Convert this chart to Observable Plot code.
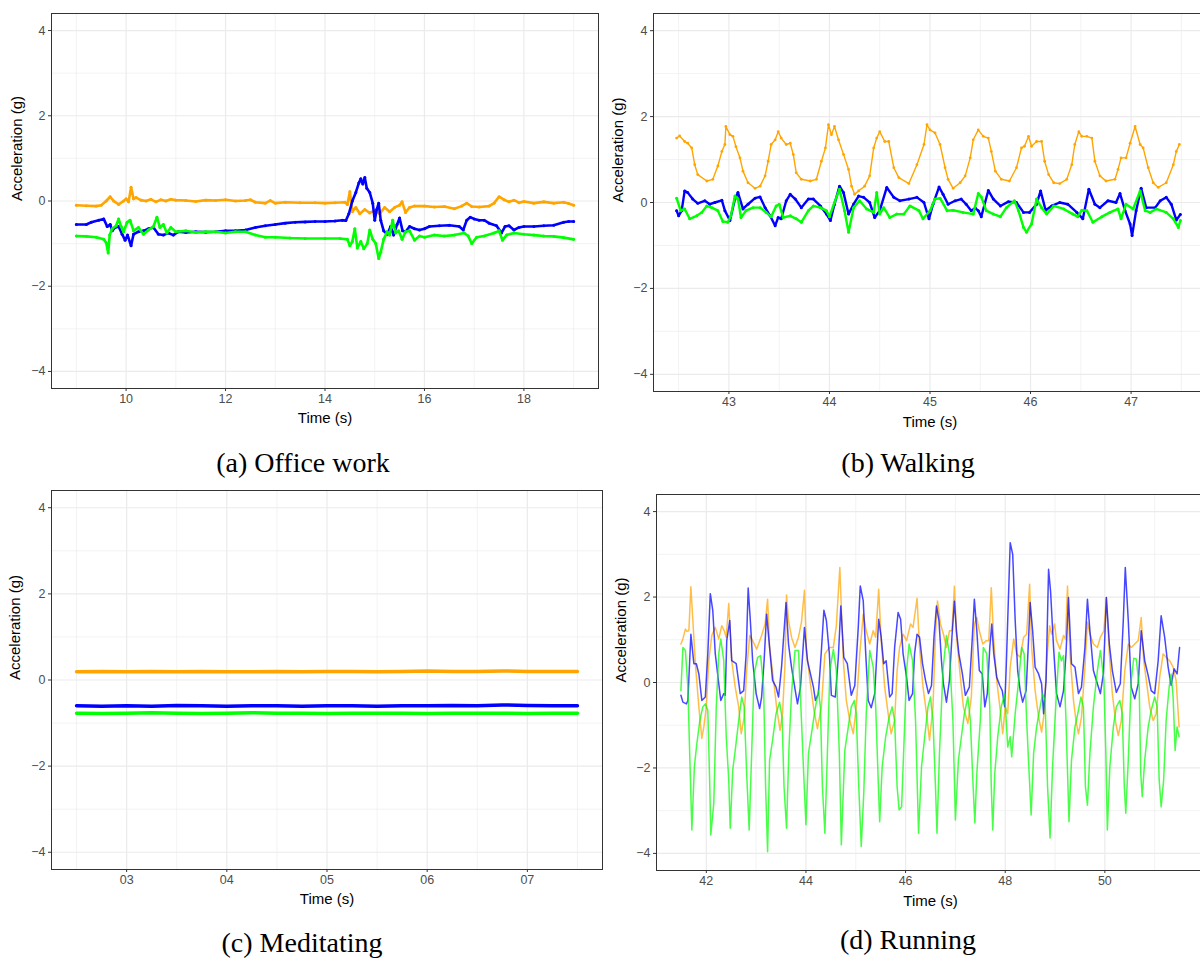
<!DOCTYPE html>
<html><head><meta charset="utf-8">
<script src="https://cdn.jsdelivr.net/npm/d3@7"></script>
<script src="https://cdn.jsdelivr.net/npm/@observablehq/plot@0.6"></script>
<style>
html,body{margin:0;padding:0;background:#fff;}
#root{position:relative;width:1200px;height:958px;overflow:hidden;}
.panel{position:absolute;width:620px;}
.panel svg{max-width:none !important;}
.cap{position:absolute;font-family:"Liberation Serif","Times New Roman",serif;font-size:28px;color:#000;transform:translate(-50%,-50%);white-space:nowrap;line-height:1;}
</style></head><body>
<div id="root"></div>
<script>
// ---------- colours / scales ----------
const colOrange = "#FFA500", colBlue = "#0000FF", colGreen = "#00FF00";
const yMajor = [-4, -2, 0, 2, 4];
const yMinor = [-3, -1, 1, 3];

// ---------- (a) Office work ----------
const officeTicks = [10, 12, 14, 16, 18];
const officeMinor = [9, 11, 13, 15, 17, 19];
const officeOrange = [[9.0,-0.10],[9.2,-0.11],[9.4,-0.12],[9.5,-0.10],[9.6,0.0],[9.68,0.10],[9.75,0.0],[9.85,-0.08],[9.95,0.0],[10.0,0.05],[10.05,-0.02],[10.1,0.32],[10.15,0.05],[10.2,0.08],[10.3,0.02],[10.4,0.0],[10.5,0.04],[10.6,-0.02],[10.7,0.03],[10.8,0.0],[10.9,0.04],[11.0,0.02],[11.2,0.01],[11.4,-0.01],[11.6,0.02],[11.8,0.01],[12.0,0.03],[12.2,0.0],[12.4,0.01],[12.5,0.03],[12.6,-0.03],[12.8,-0.05],[12.9,0.01],[13.0,-0.05],[13.2,-0.03],[13.5,-0.04],[13.8,-0.04],[14.0,-0.05],[14.2,-0.04],[14.4,-0.03],[14.45,-0.08],[14.5,0.22],[14.55,-0.25],[14.62,-0.15],[14.7,-0.3],[14.8,-0.2],[14.9,-0.28],[15.0,-0.22],[15.1,-0.3],[15.2,-0.15],[15.3,-0.25],[15.4,-0.15],[15.5,-0.1],[15.55,-0.02],[15.62,-0.27],[15.7,-0.15],[15.8,-0.12],[16.0,-0.12],[16.2,-0.14],[16.4,-0.13],[16.6,-0.18],[16.75,-0.12],[16.85,-0.05],[16.95,-0.13],[17.1,-0.14],[17.3,-0.12],[17.4,-0.05],[17.5,0.1],[17.6,0.03],[17.7,-0.02],[17.8,0.02],[17.9,-0.04],[18.0,-0.01],[18.2,-0.05],[18.4,-0.02],[18.6,-0.05],[18.8,-0.03],[18.9,-0.06],[19.0,-0.1]];
const officeBlue = [[9.0,-0.55],[9.2,-0.55],[9.3,-0.5],[9.45,-0.45],[9.55,-0.42],[9.62,-0.6],[9.68,-0.55],[9.72,-0.7],[9.78,-0.62],[9.85,-0.6],[9.92,-0.78],[9.98,-0.92],[10.03,-0.8],[10.1,-1.05],[10.15,-0.78],[10.25,-0.72],[10.35,-0.7],[10.45,-0.65],[10.55,-0.62],[10.65,-0.78],[10.75,-0.8],[10.85,-0.75],[10.95,-0.8],[11.05,-0.72],[11.2,-0.74],[11.4,-0.72],[11.6,-0.73],[11.8,-0.72],[12.0,-0.7],[12.2,-0.7],[12.4,-0.68],[12.6,-0.62],[12.8,-0.58],[13.0,-0.55],[13.2,-0.52],[13.4,-0.5],[13.6,-0.49],[13.8,-0.48],[14.0,-0.48],[14.2,-0.47],[14.35,-0.45],[14.42,-0.46],[14.48,-0.3],[14.55,0.0],[14.62,0.2],[14.68,0.42],[14.72,0.52],[14.76,0.4],[14.8,0.55],[14.84,0.3],[14.9,0.2],[14.96,-0.05],[15.0,-0.45],[15.04,-0.2],[15.08,-0.05],[15.12,-0.45],[15.18,-0.7],[15.25,-0.78],[15.32,-0.6],[15.38,-0.8],[15.45,-0.55],[15.5,-0.4],[15.56,-0.7],[15.62,-0.72],[15.7,-0.6],[15.8,-0.65],[15.9,-0.68],[16.0,-0.65],[16.1,-0.6],[16.3,-0.58],[16.5,-0.57],[16.7,-0.6],[16.78,-0.68],[16.85,-0.45],[16.92,-0.38],[17.0,-0.42],[17.1,-0.45],[17.2,-0.45],[17.3,-0.52],[17.45,-0.58],[17.55,-0.75],[17.62,-0.6],[17.7,-0.58],[17.8,-0.68],[17.9,-0.62],[18.0,-0.6],[18.2,-0.6],[18.4,-0.58],[18.6,-0.57],[18.8,-0.5],[18.9,-0.48],[19.0,-0.48]];
const officeGreen = [[9.0,-0.82],[9.2,-0.83],[9.4,-0.85],[9.55,-0.9],[9.6,-0.98],[9.64,-1.22],[9.67,-0.8],[9.72,-0.65],[9.8,-0.58],[9.85,-0.42],[9.9,-0.6],[9.95,-0.72],[10.02,-0.5],[10.08,-0.45],[10.15,-0.7],[10.25,-0.62],[10.35,-0.78],[10.45,-0.68],[10.55,-0.6],[10.62,-0.38],[10.68,-0.62],[10.75,-0.55],[10.82,-0.75],[10.9,-0.62],[11.0,-0.72],[11.2,-0.7],[11.4,-0.74],[11.6,-0.72],[11.8,-0.72],[12.0,-0.75],[12.2,-0.72],[12.4,-0.72],[12.6,-0.8],[12.8,-0.85],[13.0,-0.85],[13.3,-0.87],[13.6,-0.88],[14.0,-0.88],[14.3,-0.88],[14.45,-0.9],[14.5,-1.05],[14.55,-0.95],[14.6,-0.65],[14.65,-1.1],[14.72,-0.95],[14.78,-1.12],[14.85,-1.0],[14.9,-0.68],[14.96,-0.9],[15.02,-1.0],[15.08,-1.35],[15.12,-1.2],[15.18,-0.9],[15.25,-0.72],[15.3,-0.8],[15.36,-0.45],[15.42,-0.75],[15.48,-0.7],[15.55,-0.9],[15.62,-0.72],[15.7,-0.7],[15.8,-0.92],[15.9,-0.82],[16.0,-0.85],[16.2,-0.8],[16.4,-0.82],[16.6,-0.8],[16.8,-0.75],[16.88,-0.82],[16.95,-1.0],[17.05,-0.85],[17.2,-0.82],[17.4,-0.75],[17.5,-0.7],[17.57,-0.92],[17.65,-0.8],[17.8,-0.75],[18.0,-0.78],[18.2,-0.8],[18.4,-0.82],[18.6,-0.83],[18.8,-0.86],[19.0,-0.9]];

// ---------- (b) Walking ----------
const walkTicks = [43, 44, 45, 46, 47];
const walkMinor = [42.5, 43.5, 44.5, 45.5, 46.5, 47.5];
const walkOrange = [[42.48,1.5],[42.51,1.55],[42.56,1.42],[42.59,1.38],[42.63,1.27],[42.66,0.88],[42.69,0.65],[42.78,0.5],[42.84,0.54],[42.89,0.85],[42.93,1.19],[42.96,1.35],[42.97,1.77],[43.01,1.58],[43.04,1.54],[43.07,1.3],[43.11,1.04],[43.14,0.73],[43.19,0.46],[43.26,0.33],[43.31,0.38],[43.36,0.62],[43.39,0.96],[43.42,1.35],[43.46,1.46],[43.49,1.65],[43.52,1.5],[43.57,1.35],[43.61,1.38],[43.64,1.12],[43.67,0.69],[43.72,0.54],[43.81,0.5],[43.87,0.54],[43.92,0.96],[43.96,1.27],[43.99,1.81],[44.02,1.58],[44.05,1.77],[44.09,1.46],[44.14,1.12],[44.19,0.77],[44.22,0.38],[44.25,0.19],[44.29,0.27],[44.35,0.38],[44.4,0.62],[44.44,1.27],[44.47,1.5],[44.5,1.65],[44.55,1.42],[44.59,1.42],[44.64,0.81],[44.69,0.58],[44.79,0.44],[44.87,0.88],[44.94,1.35],[44.97,1.81],[45.0,1.69],[45.05,1.62],[45.1,1.35],[45.15,0.81],[45.18,0.54],[45.23,0.33],[45.3,0.46],[45.35,0.62],[45.4,1.04],[45.43,1.46],[45.48,1.69],[45.53,1.54],[45.58,1.5],[45.61,1.19],[45.65,0.73],[45.71,0.54],[45.79,0.5],[45.86,0.81],[45.91,1.27],[45.94,1.31],[45.98,1.54],[46.01,1.31],[46.06,1.42],[46.11,1.42],[46.14,0.96],[46.18,0.65],[46.23,0.46],[46.29,0.44],[46.36,0.54],[46.41,0.88],[46.44,1.35],[46.48,1.65],[46.51,1.54],[46.56,1.54],[46.61,1.5],[46.64,0.96],[46.69,0.62],[46.75,0.5],[46.84,0.54],[46.87,0.77],[46.9,1.04],[46.95,1.04],[46.99,1.38],[47.04,1.77],[47.09,1.35],[47.12,1.27],[47.17,0.81],[47.22,0.46],[47.27,0.35],[47.35,0.46],[47.42,0.88],[47.45,1.19],[47.48,1.35]];
const walkBlue = [[42.48,-0.19],[42.5,-0.31],[42.53,-0.19],[42.56,0.27],[42.59,0.23],[42.64,0.08],[42.69,-0.02],[42.76,0.04],[42.81,-0.04],[42.86,0.0],[42.93,0.05],[42.96,-0.19],[43.01,-0.42],[43.06,0.08],[43.09,0.23],[43.14,-0.15],[43.19,-0.04],[43.26,0.1],[43.31,0.13],[43.36,-0.12],[43.41,-0.31],[43.46,-0.54],[43.49,-0.35],[43.52,-0.38],[43.57,0.04],[43.61,0.19],[43.66,0.08],[43.72,-0.12],[43.79,0.08],[43.84,0.08],[43.91,-0.08],[43.97,-0.27],[44.01,-0.42],[44.05,-0.04],[44.1,0.38],[44.14,0.23],[44.19,-0.27],[44.24,-0.04],[44.29,0.15],[44.34,0.12],[44.4,0.0],[44.45,-0.35],[44.5,-0.19],[44.57,0.35],[44.64,0.12],[44.7,0.04],[44.79,0.08],[44.87,0.12],[44.94,0.0],[44.99,-0.38],[45.03,-0.04],[45.09,0.36],[45.13,0.19],[45.18,-0.04],[45.25,0.04],[45.31,0.08],[45.36,-0.04],[45.41,-0.19],[45.45,-0.13],[45.48,-0.19],[45.51,-0.33],[45.58,0.28],[45.63,0.08],[45.7,-0.08],[45.78,0.02],[45.86,0.0],[45.93,-0.23],[45.99,-0.23],[46.06,-0.04],[46.1,0.27],[46.15,-0.18],[46.21,-0.08],[46.29,0.0],[46.37,-0.04],[46.46,-0.23],[46.52,-0.38],[46.58,0.31],[46.64,-0.04],[46.69,-0.12],[46.77,0.04],[46.85,0.0],[46.89,0.21],[46.94,-0.19],[46.99,-0.5],[47.01,-0.77],[47.05,-0.19],[47.1,0.33],[47.15,-0.12],[47.24,-0.12],[47.29,0.04],[47.35,0.12],[47.4,-0.04],[47.45,-0.41],[47.49,-0.28]];
const walkGreen = [[42.48,0.1],[42.52,-0.19],[42.56,-0.15],[42.61,-0.38],[42.68,-0.31],[42.73,-0.23],[42.78,-0.08],[42.83,-0.12],[42.89,-0.19],[42.94,-0.44],[42.99,-0.46],[43.02,-0.31],[43.06,0.15],[43.09,0.08],[43.12,-0.35],[43.17,-0.19],[43.24,-0.12],[43.31,-0.12],[43.37,-0.23],[43.42,-0.33],[43.47,-0.08],[43.5,-0.04],[43.54,-0.35],[43.61,-0.31],[43.67,-0.38],[43.72,-0.46],[43.79,-0.19],[43.84,-0.08],[43.91,-0.12],[43.97,-0.19],[44.0,-0.33],[44.05,0.0],[44.1,0.31],[44.15,-0.19],[44.19,-0.69],[44.24,-0.12],[44.3,0.04],[44.37,-0.15],[44.44,-0.23],[44.47,0.23],[44.5,-0.27],[44.54,-0.12],[44.6,-0.35],[44.67,-0.27],[44.74,-0.27],[44.8,-0.08],[44.89,-0.19],[44.93,-0.38],[45.0,-0.19],[45.05,0.08],[45.1,0.1],[45.17,-0.19],[45.23,-0.18],[45.33,-0.23],[45.43,-0.27],[45.48,0.21],[45.51,0.13],[45.56,-0.19],[45.63,-0.27],[45.7,-0.33],[45.76,-0.12],[45.84,0.04],[45.88,-0.19],[45.93,-0.58],[45.96,-0.69],[46.01,-0.5],[46.06,0.08],[46.11,-0.12],[46.16,-0.27],[46.23,-0.08],[46.33,-0.15],[46.42,-0.27],[46.47,-0.33],[46.51,-0.18],[46.56,-0.19],[46.62,-0.46],[46.71,-0.33],[46.79,-0.23],[46.87,-0.15],[46.9,-0.38],[46.95,-0.04],[47.02,-0.15],[47.09,0.27],[47.14,-0.19],[47.19,-0.23],[47.25,-0.15],[47.35,-0.23],[47.42,-0.38],[47.47,-0.58],[47.49,-0.42]];

// ---------- (c) Meditating ----------
const medTicks = [3, 4, 5, 6, 7];
const medTickLabels = ["03", "04", "05", "06", "07"];
const medMinor = [2.5, 3.5, 4.5, 5.5, 6.5, 7.5];
const medTime = [2.5,2.75,3.0,3.25,3.5,3.75,4.0,4.25,4.5,4.75,5.0,5.25,5.5,5.75,6.0,6.25,6.5,6.75,7.0,7.25,7.5];
const medOrange = [0.19,0.20,0.19,0.20,0.19,0.20,0.19,0.19,0.20,0.19,0.20,0.20,0.19,0.20,0.21,0.20,0.20,0.21,0.20,0.20,0.20];
const medBlue = [-0.60,-0.61,-0.60,-0.61,-0.59,-0.60,-0.61,-0.60,-0.60,-0.61,-0.60,-0.60,-0.61,-0.60,-0.60,-0.59,-0.60,-0.58,-0.59,-0.60,-0.60];
const medGreen = [-0.77,-0.78,-0.77,-0.76,-0.77,-0.78,-0.77,-0.76,-0.77,-0.77,-0.78,-0.77,-0.77,-0.77,-0.78,-0.77,-0.77,-0.77,-0.78,-0.77,-0.77];

// ---------- (d) Running ----------
const runTicks = [42, 44, 46, 48, 50];
const runMinor = [41, 43, 45, 47, 49, 51];
const runOrange = [[41.49,0.9],[41.53,1.02],[41.58,1.25],[41.61,1.2],[41.65,1.21],[41.69,2.24],[41.73,1.45],[41.78,0.44],[41.85,-0.57],[41.91,-1.31],[41.95,-1.04],[42.0,-0.57],[42.05,0.51],[42.11,1.1],[42.18,1.29],[42.25,1.02],[42.31,1.33],[42.36,1.21],[42.4,1.06],[42.45,1.85],[42.51,0.51],[42.58,-0.11],[42.65,-0.57],[42.7,-1.2],[42.76,-0.81],[42.81,0.28],[42.87,1.1],[42.93,0.98],[43.01,0.78],[43.11,1.1],[43.18,1.37],[43.23,1.95],[43.27,0.82],[43.35,0.05],[43.41,-0.57],[43.48,-1.12],[43.53,-0.73],[43.58,0.44],[43.61,2.05],[43.65,1.45],[43.71,1.06],[43.78,0.82],[43.85,1.06],[43.91,1.41],[43.97,2.16],[44.01,0.75],[44.08,0.05],[44.16,-0.65],[44.23,-1.08],[44.31,-0.57],[44.38,0.67],[44.47,0.82],[44.55,0.82],[44.61,1.33],[44.68,2.69],[44.75,0.51],[44.81,-0.42],[44.88,-0.89],[44.95,-1.2],[45.01,-0.57],[45.08,0.67],[45.15,1.6],[45.21,1.21],[45.28,0.9],[45.35,1.21],[45.4,1.06],[45.46,2.18],[45.51,0.98],[45.58,-0.11],[45.65,-0.73],[45.71,-1.2],[45.78,-0.89],[45.83,0.28],[45.88,0.82],[45.95,1.13],[46.02,0.98],[46.1,1.37],[46.15,1.29],[46.23,1.97],[46.28,0.82],[46.35,-0.11],[46.42,-0.73],[46.48,-1.35],[46.55,-0.57],[46.6,1.13],[46.64,1.91],[46.7,1.37],[46.76,1.13],[46.82,0.82],[46.88,1.21],[46.93,1.21],[46.98,2.25],[47.03,0.98],[47.1,0.12],[47.16,-0.57],[47.25,-0.96],[47.32,-0.34],[47.38,1.37],[47.43,1.52],[47.48,1.21],[47.55,0.9],[47.62,0.98],[47.67,0.98],[47.72,2.22],[47.77,0.98],[47.83,0.05],[47.9,-0.65],[47.95,-1.2],[48.0,-0.57],[48.05,-0.73],[48.1,0.36],[48.17,1.02],[48.23,0.67],[48.3,0.59],[48.37,1.06],[48.43,1.13],[48.49,2.3],[48.53,0.82],[48.6,-0.19],[48.67,-0.81],[48.73,-1.16],[48.78,-0.73],[48.83,0.44],[48.89,1.33],[48.93,1.13],[48.99,1.37],[49.03,0.98],[49.1,0.78],[49.17,1.1],[49.21,1.02],[49.25,2.26],[49.3,0.67],[49.37,-0.42],[49.42,-0.89],[49.47,-1.2],[49.53,-0.81],[49.6,0.36],[49.65,1.41],[49.7,1.13],[49.77,0.9],[49.85,0.82],[49.91,1.06],[49.98,1.21],[50.03,1.99],[50.09,0.67],[50.15,-0.26],[50.22,-0.96],[50.27,-1.24],[50.33,-0.89],[50.4,0.28],[50.47,0.9],[50.53,0.82],[50.6,0.9],[50.67,0.98],[50.73,1.52],[50.78,0.51],[50.85,-0.11],[50.9,-0.57],[50.97,-0.89],[51.03,-0.73],[51.1,0.12],[51.17,0.67],[51.23,0.59],[51.3,0.51],[51.37,0.36],[51.43,0.05],[51.49,-1.04]];
const runBlue = [[41.49,-0.3],[41.53,-0.46],[41.6,-0.5],[41.63,-0.42],[41.69,1.13],[41.75,0.44],[41.8,0.44],[41.85,0.2],[41.91,-0.42],[41.98,-0.34],[42.03,0.67],[42.08,2.08],[42.13,1.68],[42.18,0.67],[42.25,-0.03],[42.29,-0.42],[42.35,-0.26],[42.38,-0.3],[42.41,0.98],[42.47,1.45],[42.51,0.51],[42.6,0.44],[42.68,-0.26],[42.75,-0.19],[42.8,0.67],[42.84,2.21],[42.88,1.52],[42.93,0.51],[43.0,-0.26],[43.07,-0.61],[43.11,-0.34],[43.16,0.51],[43.21,1.6],[43.27,0.82],[43.33,0.05],[43.4,-0.11],[43.45,-0.34],[43.51,0.36],[43.6,1.87],[43.65,0.9],[43.71,0.36],[43.78,-0.15],[43.83,-0.5],[43.89,-0.11],[43.97,1.29],[44.03,0.51],[44.09,0.2],[44.15,-0.11],[44.19,-0.42],[44.25,-0.26],[44.31,0.75],[44.36,1.69],[44.41,1.45],[44.47,0.67],[44.51,-0.3],[44.59,-0.34],[44.65,0.59],[44.7,1.79],[44.76,0.59],[44.83,0.44],[44.88,-0.03],[44.91,-0.3],[44.98,-0.07],[45.05,1.29],[45.09,2.26],[45.15,1.91],[45.2,0.67],[45.25,-0.42],[45.31,-0.59],[45.38,-0.26],[45.46,1.48],[45.51,1.06],[45.56,0.44],[45.61,0.51],[45.68,-0.34],[45.73,-0.26],[45.78,0.82],[45.85,1.64],[45.9,1.48],[45.95,0.67],[46.02,0.12],[46.07,-0.42],[46.14,-0.26],[46.18,0.67],[46.23,1.13],[46.28,1.06],[46.34,0.44],[46.4,0.05],[46.46,-0.26],[46.52,-0.07],[46.57,1.06],[46.62,1.79],[46.67,1.45],[46.72,0.51],[46.76,-0.03],[46.82,-0.46],[46.88,0.05],[46.93,1.06],[46.98,1.9],[47.02,1.21],[47.07,0.67],[47.14,0.2],[47.2,-0.3],[47.28,-0.11],[47.34,1.06],[47.38,1.95],[47.43,1.21],[47.48,0.28],[47.54,0.2],[47.59,-0.57],[47.64,-0.26],[47.69,0.82],[47.73,1.37],[47.77,0.67],[47.83,0.12],[47.89,-0.07],[47.94,-0.19],[47.99,-0.57],[48.02,0.36],[48.05,1.45],[48.1,3.27],[48.15,3.0],[48.2,1.45],[48.25,0.28],[48.3,-0.19],[48.35,-0.46],[48.42,-0.19],[48.47,1.06],[48.5,1.87],[48.55,1.21],[48.6,0.36],[48.67,0.2],[48.73,-0.03],[48.77,-0.73],[48.82,0.05],[48.87,2.65],[48.91,2.14],[48.97,0.82],[49.03,-0.26],[49.1,-0.57],[49.17,-0.19],[49.22,0.67],[49.27,1.99],[49.33,0.44],[49.4,0.36],[49.47,-0.26],[49.53,-0.11],[49.6,0.82],[49.65,1.95],[49.7,1.21],[49.77,0.28],[49.85,-0.03],[49.91,-0.26],[49.97,0.2],[50.03,1.99],[50.09,0.9],[50.15,0.28],[50.23,-0.23],[50.31,-0.03],[50.37,1.45],[50.41,2.69],[50.47,1.45],[50.53,-0.11],[50.6,-0.38],[50.67,-0.03],[50.73,1.21],[50.8,0.51],[50.87,0.16],[50.93,-0.19],[51.0,-0.26],[51.07,0.51],[51.13,1.56],[51.2,1.06],[51.27,0.36],[51.33,-0.07],[51.39,0.32],[51.45,0.2],[51.5,0.82]];
const runGreen = [[41.49,-0.19],[41.53,0.82],[41.58,0.75],[41.63,-0.11],[41.67,-1.82],[41.71,-3.45],[41.76,-1.97],[41.81,-1.43],[41.87,-0.89],[41.93,-0.57],[41.98,-0.5],[42.03,-0.65],[42.07,-2.44],[42.09,-3.57],[42.15,-2.83],[42.2,-0.57],[42.25,0.67],[42.29,1.02],[42.35,0.51],[42.4,-1.27],[42.45,-2.28],[42.48,-3.41],[42.53,-2.05],[42.58,-1.59],[42.65,-0.89],[42.71,-0.34],[42.76,-0.57],[42.81,-2.13],[42.86,-3.45],[42.91,-1.66],[42.96,0.2],[43.03,0.59],[43.09,0.63],[43.15,-0.11],[43.19,-2.44],[43.23,-3.96],[43.27,-1.82],[43.33,-1.35],[43.4,-0.73],[43.47,-0.46],[43.52,-0.81],[43.56,-2.44],[43.61,-3.41],[43.66,-1.51],[43.71,-0.26],[43.78,0.75],[43.85,0.75],[43.91,-0.89],[43.96,-2.28],[44.0,-3.33],[44.05,-1.66],[44.11,-1.2],[44.18,-0.65],[44.25,-0.19],[44.29,-0.57],[44.33,-2.44],[44.38,-3.53],[44.43,-1.66],[44.48,0.28],[44.55,0.78],[44.61,0.28],[44.67,-1.66],[44.71,-3.8],[44.78,-1.59],[44.85,-1.04],[44.91,-0.57],[44.97,-0.42],[45.01,-0.73],[45.06,-2.44],[45.11,-3.84],[45.16,-2.6],[45.21,-0.73],[45.28,0.75],[45.35,0.36],[45.4,-0.57],[45.45,-2.28],[45.48,-3.26],[45.53,-1.97],[45.6,-1.27],[45.67,-0.81],[45.73,-0.57],[45.78,-0.89],[45.83,-2.44],[45.87,-2.98],[45.92,-2.91],[45.96,-1.66],[46.02,0.28],[46.07,0.9],[46.14,0.51],[46.2,-0.89],[46.26,-3.53],[46.32,-1.97],[46.39,-1.2],[46.45,-0.57],[46.5,-0.34],[46.55,-0.89],[46.6,-2.44],[46.63,-3.53],[46.68,-1.66],[46.75,0.28],[46.82,1.1],[46.88,0.67],[46.95,-0.89],[47.0,-3.22],[47.06,-1.82],[47.12,-1.27],[47.18,-0.73],[47.25,-0.34],[47.3,-0.89],[47.35,-2.28],[47.39,-3.29],[47.43,-2.13],[47.5,-0.89],[47.56,0.82],[47.63,0.67],[47.69,-0.57],[47.72,-2.44],[47.75,-3.45],[47.79,-2.13],[47.85,-1.27],[47.92,-0.57],[47.99,-0.26],[48.05,-1.51],[48.1,-1.27],[48.13,-1.74],[48.2,-0.73],[48.27,0.05],[48.33,0.82],[48.38,0.67],[48.43,-0.89],[48.48,-2.13],[48.52,-3.1],[48.57,-1.66],[48.63,-1.04],[48.7,-0.57],[48.75,-0.26],[48.8,-0.42],[48.85,-2.44],[48.9,-3.64],[48.95,-1.97],[49.02,-0.42],[49.08,0.71],[49.13,0.51],[49.17,0.63],[49.22,-0.89],[49.28,-3.26],[49.33,-1.82],[49.4,-1.04],[49.47,-0.65],[49.52,-0.34],[49.57,-0.57],[49.61,-2.44],[49.65,-2.87],[49.7,-1.66],[49.77,-0.57],[49.85,0.28],[49.91,0.75],[49.98,0.05],[50.02,-1.66],[50.05,-3.45],[50.1,-1.97],[50.17,-1.04],[50.23,-0.57],[50.3,-0.42],[50.35,-0.73],[50.39,-2.44],[50.42,-3.06],[50.47,-1.82],[50.53,0.05],[50.58,0.57],[50.63,0.55],[50.69,-0.11],[50.72,-2.13],[50.75,-2.67],[50.8,-1.82],[50.87,-1.04],[50.93,-0.65],[51.0,-0.34],[51.05,-0.57],[51.09,-2.28],[51.13,-2.91],[51.18,-2.28],[51.23,-0.89],[51.29,-0.11],[51.33,0.2],[51.37,-0.34],[51.41,-1.59],[51.45,-1.04],[51.49,-1.27]];

// ---------- helpers ----------
const rows = pairs => pairs.map(([t, v]) => ({t, v}));
const zipRows = (ts, vs) => ts.map((t, i) => ({t, v: vs[i]}));
const FONT = "'Liberation Sans', Arial, Helvetica, sans-serif";

function panel(cfg) {
  const marks = [
    Plot.gridX(cfg.xMinor, {stroke: "#EBEBEB", strokeOpacity: 1, strokeWidth: 0.6}),
    Plot.gridY(yMinor, {stroke: "#EBEBEB", strokeOpacity: 1, strokeWidth: 0.6}),
    Plot.gridX(cfg.xMajor, {stroke: "#EBEBEB", strokeOpacity: 1, strokeWidth: 1.2}),
    Plot.gridY(yMajor, {stroke: "#EBEBEB", strokeOpacity: 1, strokeWidth: 1.2})
  ];
  for (const s of cfg.series) {
    marks.push(Plot.line(s.data, {x: "t", y: "v", stroke: s.color, strokeWidth: s.width, strokeOpacity: s.opacity ?? 1}));
    if (s.dot) marks.push(Plot.dot(s.data, {x: "t", y: "v", r: s.dot, fill: s.color, stroke: null}));
  }
  marks.push(Plot.frame({stroke: "#333333", strokeWidth: 1}));
  marks.push(Plot.axisX(cfg.xMajor, {tickSize: 3, tickPadding: 3, stroke: "#333333", fill: "#4D4D4D", fontSize: 12.5, tickFormat: cfg.fmt, label: null}));
  marks.push(Plot.axisY(yMajor, {tickSize: 3, tickPadding: 3, stroke: "#333333", fill: "#4D4D4D", fontSize: 12.5, tickFormat: d => d < 0 ? "\u2212" + Math.abs(d) : String(d), label: null}));
  marks.push(Plot.text(["Time (s)"], {frameAnchor: "bottom", dy: cfg.xTitleDy, text: d => d, fontSize: 15, fill: "#000", lineAnchor: "middle"}));
  marks.push(Plot.text(["Acceleration (g)"], {frameAnchor: "left", dx: cfg.yTitleDx, rotate: -90, text: d => d, fontSize: 15, fill: "#000", lineAnchor: "middle"}));
  const el = Plot.plot({
    width: cfg.width, height: cfg.height,
    marginLeft: cfg.ml, marginRight: cfg.mr, marginTop: cfg.mt, marginBottom: cfg.mb,
    x: {domain: cfg.xDomain},
    y: {domain: [-4.4, 4.4]},
    style: {fontFamily: FONT, background: "transparent", overflow: "visible", maxWidth: "none"},
    marks
  });
  el.style.maxWidth = "none";
  el.setAttribute("width", cfg.width);
  el.setAttribute("height", cfg.height);
  el.style.width = cfg.width + "px";
  el.style.height = cfg.height + "px";
  const wrap = document.createElement("div");
  wrap.className = "panel";
  wrap.style.left = cfg.left + "px";
  wrap.style.top = cfg.top + "px";
  wrap.appendChild(el);
  return wrap;
}

function caption(text, cx, cy) {
  const d = document.createElement("div");
  d.className = "cap";
  d.textContent = text;
  d.style.left = cx + "px";
  d.style.top = cy + "px";
  return d;
}

const root = document.getElementById("root");

root.appendChild(panel({
  left: 0, top: 0, width: 600, height: 440, ml: 51, mr: 2, mt: 13, mb: 52,
  xDomain: [8.5, 19.5], xMajor: officeTicks, xMinor: officeMinor, fmt: d => String(d),
  xTitleDy: 30, yTitleDx: -34,
  series: [
    {data: rows(officeOrange), color: colOrange, width: 2.6, dot: 1.5},
    {data: rows(officeBlue), color: colBlue, width: 2.6, dot: 1.5},
    {data: rows(officeGreen), color: colGreen, width: 2.6, dot: 1.5}
  ]
}));

root.appendChild(panel({
  left: 600, top: 0, width: 610, height: 440, ml: 53, mr: 4, mt: 13, mb: 49,
  xDomain: [42.25, 47.75], xMajor: walkTicks, xMinor: walkMinor, fmt: d => String(d),
  xTitleDy: 31, yTitleDx: -35,
  series: [
    {data: rows(walkOrange), color: colOrange, width: 1.4, dot: 1.4},
    {data: rows(walkBlue), color: colBlue, width: 2.4, dot: 1.5},
    {data: rows(walkGreen), color: colGreen, width: 2.4, dot: 1.5}
  ]
}));

root.appendChild(panel({
  left: 0, top: 480, width: 604, height: 440, ml: 51, mr: 2, mt: 10, mb: 51,
  xDomain: [2.25, 7.75], xMajor: medTicks, xMinor: medMinor,
  fmt: d => medTickLabels[medTicks.indexOf(d)],
  xTitleDy: 30, yTitleDx: -36,
  series: [
    {data: zipRows(medTime, medOrange), color: colOrange, width: 3.5},
    {data: zipRows(medTime, medBlue), color: colBlue, width: 3.5},
    {data: zipRows(medTime, medGreen), color: colGreen, width: 3.5}
  ]
}));

root.appendChild(panel({
  left: 600, top: 480, width: 610, height: 440, ml: 56, mr: 6, mt: 14, mb: 50,
  xDomain: [41, 52], xMajor: runTicks, xMinor: runMinor, fmt: d => String(d),
  xTitleDy: 31, yTitleDx: -35,
  series: [
    {data: rows(runOrange), color: colOrange, width: 1.5, opacity: 0.72},
    {data: rows(runBlue), color: colBlue, width: 1.5, opacity: 0.72},
    {data: rows(runGreen), color: colGreen, width: 1.5, opacity: 0.72}
  ]
}));

root.appendChild(caption("(a) Office work", 303, 463));
root.appendChild(caption("(b) Walking", 908, 463));
root.appendChild(caption("(c) Meditating", 302, 943));
root.appendChild(caption("(d) Running", 908, 940));
</script>
</body></html>
